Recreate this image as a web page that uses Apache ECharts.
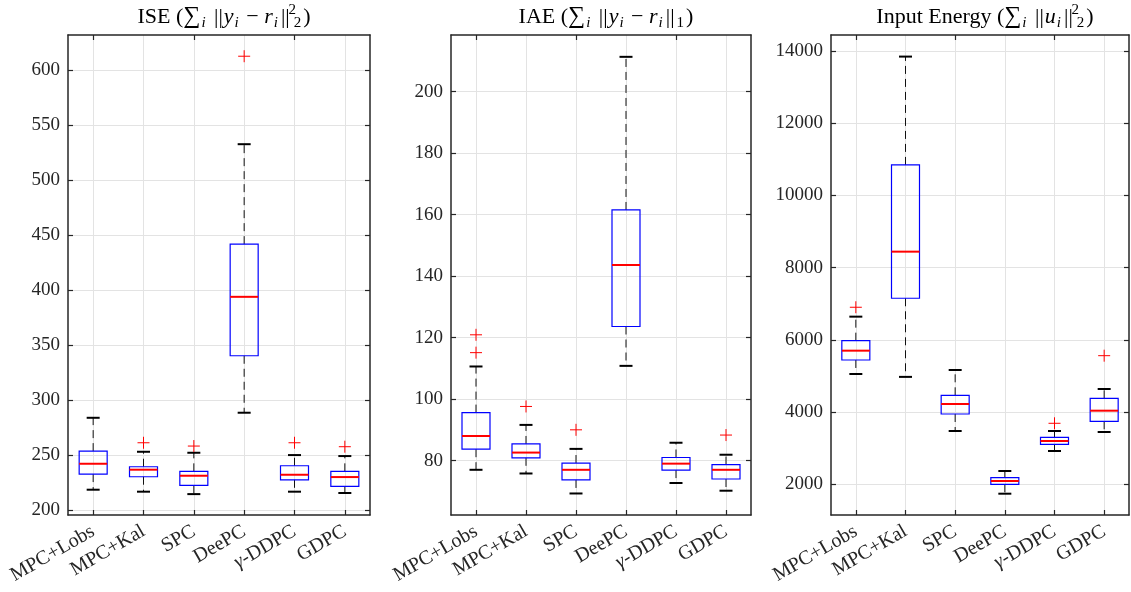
<!DOCTYPE html>
<html><head><meta charset="utf-8">
<script src="https://cdn.jsdelivr.net/npm/echarts@6/dist/echarts.min.js"></script>
<style>html,body{margin:0;padding:0;background:#fff}#c{width:1131px;height:592px}</style>
</head><body><div id="c"></div>
<script>
const categories = ['MPC+Lobs', 'MPC+Kal', 'SPC', 'DeePC', 'γ-DDPC', 'GDPC'];

// [lower whisker, Q1, median, Q3, upper whisker]
const iseStats = [
  [218.5, 232.7, 242.1, 253.6, 283.9],
  [216.7, 230.3, 236.7, 239.4, 253.0],
  [214.5, 222.4, 231.2, 235.2, 252.1],
  [288.5, 340.3, 393.9, 441.8, 532.7],
  [216.7, 227.5, 232.1, 240.3, 250.0],
  [215.5, 221.5, 230.0, 235.2, 249.1]
];
const iseOutliers = [[1, 261.2], [2, 258.2], [3, 612.7], [4, 261.2], [5, 257.6]];
const iseTicks = [200, 250, 300, 350, 400, 450, 500, 550, 600];

const iaeStats = [
  [77.0, 83.7, 88.0, 95.6, 110.6],
  [75.8, 80.9, 82.6, 85.4, 91.6],
  [69.3, 73.7, 77.0, 79.2, 83.8],
  [110.8, 123.6, 143.6, 161.5, 211.3],
  [72.7, 76.9, 79.0, 81.0, 85.8],
  [70.2, 74.0, 77.0, 78.7, 81.9]
];
const iaeOutliers = [[0, 120.9], [0, 115.1], [1, 97.6], [2, 90.0], [5, 88.3]];
const iaeTicks = [80, 100, 120, 140, 160, 180, 200];

const energyStats = [
  [5055, 5443, 5701, 5978, 6643],
  [4975, 7152, 8443, 10845, 13845],
  [3476, 3947, 4224, 4465, 5166],
  [1740, 2000, 2091, 2183, 2368],
  [2922, 3108, 3199, 3302, 3476],
  [3449, 3745, 4039, 4382, 4640]
];
const energyOutliers = [[0, 6903], [4, 3690], [5, 5562]];
const energyTicks = [2000, 4000, 6000, 8000, 10000, 12000, 14000];

const FONT = "'Liberation Serif', 'DejaVu Serif', serif";
const AX = '#262626';
const GRIDC = '#e3e3e3';
const BOX_W = 28, CAP_W = 13;

const panels = [
  {left: 68, width: 302, stats: iseStats, out: iseOutliers, ticks: iseTicks, min: 195.5, max: 632,
   title: '{n|ISE (}{s|∑}{sb|i}{n| }{b|||}{it|y}{sb|i}{n| − }{it|r}{sb|i}{b|||}{sp|2}{sb2|2}{n|)}'},
  {left: 451, width: 300, stats: iaeStats, out: iaeOutliers, ticks: iaeTicks, min: 62.3, max: 218.4,
   title: '{n|IAE (}{s|∑}{sb|i}{n| }{b|||}{it|y}{sb|i}{n| − }{it|r}{sb|i}{b|||}{sb2|1}{n|)}'},
  {left: 831, width: 298, stats: energyStats, out: energyOutliers, ticks: energyTicks, min: 1150, max: 14443,
   title: '{n|Input Energy (}{s|∑}{sb|i}{n| }{b|||}{it|u}{sb|i}{b|||}{sp|2}{sb2|2}{n|)}'}
];

const base = {fontFamily: FONT, fontWeight: 'normal', color: '#000'};
const titleRich = {
  n: Object.assign({fontSize: 22, lineHeight: 28, verticalAlign: 'middle'}, base),
  b: Object.assign({fontSize: 22, lineHeight: 28, verticalAlign: 'middle', padding: [0, 1, 0, 1]}, base),
  it: Object.assign({fontSize: 22, fontStyle: 'italic', lineHeight: 28, verticalAlign: 'middle', padding: [0, 1, 0, 0]}, base),
  s: Object.assign({fontSize: 24, lineHeight: 28, verticalAlign: 'middle', padding: [0, 1, 0, 0]}, base),
  sb: Object.assign({fontSize: 15, fontStyle: 'italic', lineHeight: 14, verticalAlign: 'bottom', padding: [0, 2, 0, 0]}, base),
  sb2: Object.assign({fontSize: 15, lineHeight: 14, verticalAlign: 'bottom', padding: [0, 2, 0, 1]}, base),
  sp: Object.assign({fontSize: 15, lineHeight: 14, verticalAlign: 'top', width: 1, padding: [0, 0, 0, 1]}, base)
};

function renderBox(params, api) {
  const x = api.value(0);
  const lo = api.coord([x, api.value(1)]);
  const q1 = api.coord([x, api.value(2)]);
  const md = api.coord([x, api.value(3)]);
  const q3 = api.coord([x, api.value(4)]);
  const hi = api.coord([x, api.value(5)]);
  const cx = lo[0], h = BOX_W / 2, c = CAP_W / 2;
  const dash = {stroke: '#111', lineWidth: 1, lineDash: [8, 5], fill: null};
  const cap = {stroke: '#000', lineWidth: 2};
  return {
    type: 'group',
    children: [
      {type: 'line', shape: {x1: cx, y1: q3[1], x2: cx, y2: hi[1]}, style: dash},
      {type: 'line', shape: {x1: cx, y1: q1[1], x2: cx, y2: lo[1]}, style: dash},
      {type: 'line', shape: {x1: cx - c, y1: hi[1], x2: cx + c, y2: hi[1]}, style: cap},
      {type: 'line', shape: {x1: cx - c, y1: lo[1], x2: cx + c, y2: lo[1]}, style: cap},
      {type: 'rect', shape: {x: cx - h, y: q3[1], width: BOX_W, height: q1[1] - q3[1]},
       style: {fill: 'rgba(0,0,0,0)', stroke: '#0000ff', lineWidth: 1.2}},
      {type: 'line', shape: {x1: cx - h, y1: md[1], x2: cx + h, y2: md[1]}, style: {stroke: '#ff0000', lineWidth: 2}}
    ]
  };
}

const option = {animation: false, backgroundColor: '#fff', title: [], grid: [], xAxis: [], yAxis: [], series: []};

panels.forEach((p, i) => {
  option.title.push({
    text: p.title, left: p.left + p.width / 2, top: -2, textAlign: 'center',
    textStyle: {fontWeight: 'normal', rich: titleRich}
  });
  option.grid.push({left: p.left, top: 35, width: p.width, height: 480, containLabel: false});
  option.xAxis.push({
    type: 'category', gridIndex: i, data: categories, position: 'bottom',
    axisLine: {show: true, lineStyle: {color: AX, width: 1.5}},
    axisTick: {show: true, inside: true, alignWithLabel: true, length: 5, lineStyle: {color: AX, width: 1.2}},
    splitLine: {show: true, alignWithLabel: true, lineStyle: {color: GRIDC, width: 1}},
    axisLabel: {
      rotate: 30, margin: 15, color: AX, fontFamily: FONT, fontSize: 20, interval: 0,
      formatter: v => v.charAt(0) === 'γ' ? '{g|γ}-DDPC' : v,
      rich: {g: {fontFamily: FONT, fontSize: 20, fontStyle: 'italic', color: AX}}
    }
  });
  option.xAxis.push({
    type: 'category', gridIndex: i, data: categories, position: 'top',
    axisLine: {show: true, lineStyle: {color: AX, width: 1.5}},
    axisTick: {show: true, inside: true, alignWithLabel: true, length: 5, lineStyle: {color: AX, width: 1.2}},
    splitLine: {show: false}, axisLabel: {show: false}
  });
  option.yAxis.push({
    type: 'value', gridIndex: i, position: 'left', min: p.min, max: p.max,
    axisLine: {show: true, lineStyle: {color: AX, width: 1.5}},
    axisTick: {show: true, inside: true, length: 5, customValues: p.ticks, lineStyle: {color: AX, width: 1.2}},
    axisLabel: {show: true, customValues: p.ticks, color: AX, fontFamily: FONT, fontSize: 19, margin: 8,
      formatter: v => String(Math.round(v))},
    splitLine: {show: true, lineStyle: {color: GRIDC, width: 1}}
  });
  option.yAxis.push({
    type: 'value', gridIndex: i, position: 'right', min: p.min, max: p.max,
    axisLine: {show: true, lineStyle: {color: AX, width: 1.5}},
    axisTick: {show: true, inside: true, length: 5, customValues: p.ticks, lineStyle: {color: AX, width: 1.2}},
    axisLabel: {show: false}, splitLine: {show: false}
  });
  option.series.push({
    type: 'custom', xAxisIndex: 2 * i, yAxisIndex: 2 * i, renderItem: renderBox, z: 3,
    encode: {x: 0, y: [1, 2, 3, 4, 5]},
    data: p.stats.map((s, k) => [k].concat(s))
  });
  option.series.push({
    type: 'scatter', xAxisIndex: 2 * i, yAxisIndex: 2 * i, z: 4,
    symbol: 'path://M5,0L5,10M0,5L10,5', symbolSize: 12,
    itemStyle: {color: 'rgba(0,0,0,0)', borderColor: '#ff0000', borderWidth: 1, opacity: 1},
    data: p.out
  });
});

const chart = echarts.init(document.getElementById('c'), null, {renderer: 'canvas'});
chart.setOption(option);
</script></body></html>
